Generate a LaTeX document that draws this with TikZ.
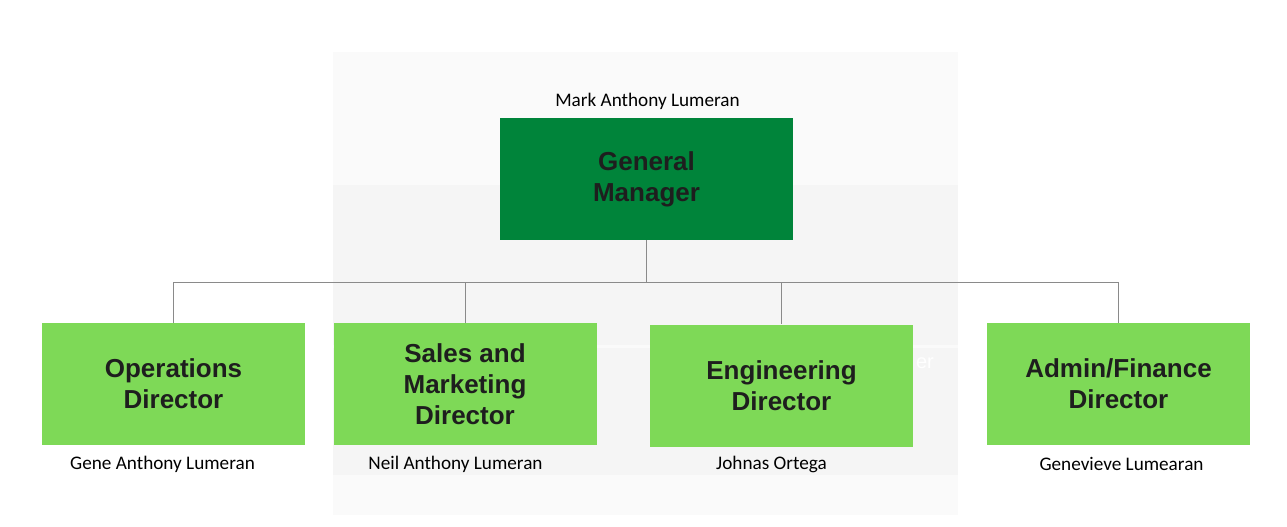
\documentclass[tikz,border=0pt]{standalone}
\usepackage{fontspec}
\setmainfont{Carlito}
\newfontfamily\rolefont{Liberation Sans}
\usetikzlibrary{positioning, backgrounds}
\definecolor{DGreen}{RGB}{ 0, 132, 58 }
\definecolor{LGreen}{RGB}{ 126, 217, 87 }
\definecolor{LinkGray}{HTML}{8A8A8A}
\definecolor{RoleText}{HTML}{1E1E1E}
\definecolor{Panel}{HTML}{FAFAFA}
\definecolor{PanelBand}{HTML}{F5F5F5}
\tikzset{
    role/.style={minimum width=197.25pt, minimum height=91.5pt, inner sep=0pt,
        align=center, text=RoleText,
        font=\rolefont\bfseries\fontsize{19.5}{23.25}\selectfont},
    boss/.style={role, fill=DGreen, minimum width=219.75pt},
    director/.style={role, fill=LGreen},
    person/.style={inner sep=0pt, text=black, font=\fontsize{14.4}{17}\selectfont},
    link/.style={LinkGray, line width=0.75pt}
}

\begin{document}
\begin{tikzpicture}[x=0.75pt, y=-0.75pt]
\useasboundingbox (0,0) rectangle (1287,527);

% faint panel behind the chart
\fill[Panel] (333,52) rectangle (958,515);
\fill[PanelBand] (333,185) rectangle (958,345);
\fill[PanelBand] (333,348) rectangle (958,475);
\node[text=white, font=\rolefont\fontsize{15}{18}\selectfont] (left-over) at (925,363) {er};

\node[boss] (gm) at (646.5,179) {General\\Manager};
\node[director] (ops) at (173.5,384) {Operations\\Director};
\node[director] (sales) at (465,384) {Sales and\\Marketing\\Director};
\node[director] (eng) at (781.5,385.5) {Engineering\\Director};
\node[director] (admin) at (1118.5,384) {Admin/Finance\\Director};

\node[person] (gm-name) at (647.5,101) {Mark Anthony Lumeran};
\node[person] (ops-name) at (162.5,464) {Gene Anthony Lumeran};
\node[person] (sales-name) at (455.5,464) {Neil Anthony Lumeran};
\node[person] (eng-name) at (771.5,464) {Johnas Ortega};
\node[person] (admin-name) at (1121.5,464) {Genevieve Lumearan};

\coordinate (bus) at (0,282);
\draw[link] (gm.south) -- (gm.south |- bus);
\draw[link] (ops.north) -- (ops.north |- bus) -- (admin.north |- bus) -- (admin.north);
\foreach \d in {sales, eng}
    \draw[link] (\d.north) -- (\d.north |- bus);

\end{tikzpicture}
\end{document}
